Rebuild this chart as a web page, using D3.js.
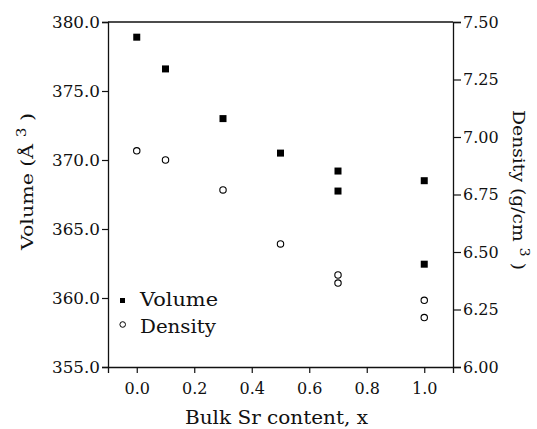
<!DOCTYPE html>
<html>
<head>
<meta charset="utf-8">
<script src="https://cdn.jsdelivr.net/npm/d3@7"></script>
<style>
  html, body { margin: 0; padding: 0; background: #fff; }
  svg { display: block; }
  text { font-family: "DejaVu Serif", serif; fill: #111; }
</style>
</head>
<body>
<svg id="chart" width="537" height="429"></svg>
<script>
// Sr content of each sample (x) with unit-cell volume and density
const xVolume = [0, 0.1, 0.3, 0.5, 0.7, 0.7, 1.0, 1.0];
const volume = [378.9, 376.6, 373.0, 370.5, 369.2, 367.75, 368.5, 362.45];
const xDensity = [0, 0.1, 0.3, 0.5, 0.7, 0.7, 1.0, 1.0];
const density = [6.94, 6.90, 6.77, 6.535, 6.40, 6.365, 6.29, 6.215];

const xTicks = [0, 0.2, 0.4, 0.6, 0.8, 1.0];
const volumeTicks = [355, 360, 365, 370, 375, 380];
const densityTicks = [6.0, 6.25, 6.5, 6.75, 7.0, 7.25, 7.5];
const legendLabels = ["Volume", "Density"];

const svg = d3.select("#chart");
const margin = { left: 108, right: 84, top: 22, bottom: 62 };
const W = 537, H = 429;

const x = d3.scaleLinear().domain([-0.1, 1.1]).range([margin.left, W - margin.right]);
const yV = d3.scaleLinear().domain([355, 380]).range([H - margin.bottom, margin.top]);
const yD = d3.scaleLinear().domain([6.0, 7.5]).range([H - margin.bottom, margin.top]);

const serif = '"DejaVu Serif", serif';

function styleAxis(size) {
  return g => {
    g.attr("font-family", null);
    g.selectAll(".domain").attr("stroke", "#111").attr("stroke-width", 1.3);
    g.selectAll(".tick line").attr("stroke", "#111").attr("stroke-width", 1.2);
    g.selectAll(".tick text").style("font-family", serif)
      .style("font-size", size).attr("fill", "#111");
  };
}

// bottom axis
svg.append("g")
  .attr("transform", `translate(0,${H - margin.bottom})`)
  .call(d3.axisBottom(x).tickValues(xTicks).tickFormat(d3.format(".1f")).tickSizeOuter(0).tickSize(6).tickPadding(10))
  .call(styleAxis("16px"));

// left axis (volume)
svg.append("g")
  .attr("transform", `translate(${margin.left},0)`)
  .call(d3.axisLeft(yV).tickValues(volumeTicks).tickFormat(d3.format(".1f")).tickSizeOuter(0).tickSize(6).tickPadding(2))
  .call(styleAxis("16.8px"));

// right axis (density)
svg.append("g")
  .attr("transform", `translate(${W - margin.right},0)`)
  .call(d3.axisRight(yD).tickValues(densityTicks).tickFormat(d3.format(".2f")).tickSizeOuter(0).tickSize(8).tickPadding(2))
  .call(styleAxis("16px"));

// top frame line
svg.append("line")
  .attr("x1", margin.left).attr("x2", W - margin.right)
  .attr("y1", margin.top).attr("y2", margin.top)
  .attr("stroke", "#111").attr("stroke-width", 1.3);

// volume markers: filled squares
const sq = 7;
svg.append("g").selectAll("rect")
  .data(volume.map((v, i) => [xVolume[i], v]))
  .join("rect")
  .attr("x", d => x(d[0]) - sq / 2)
  .attr("y", d => yV(d[1]) - sq / 2)
  .attr("width", sq).attr("height", sq)
  .attr("fill", "#000");

// density markers: open circles
svg.append("g").selectAll("circle")
  .data(density.map((v, i) => [xDensity[i], v]))
  .join("circle")
  .attr("cx", d => x(d[0]))
  .attr("cy", d => yD(d[1]))
  .attr("r", 3.2)
  .attr("fill", "none").attr("stroke", "#000").attr("stroke-width", 1.1);

// legend
const lg = svg.append("g");
lg.append("rect").attr("x", 120).attr("y", 298).attr("width", 5).attr("height", 5).attr("fill", "#000");
lg.append("circle").attr("cx", 122.7).attr("cy", 324.5).attr("r", 2.8)
  .attr("fill", "none").attr("stroke", "#000").attr("stroke-width", 1);
lg.append("text").attr("x", 140).attr("y", 306).style("font-size", "18px")
  .attr("textLength", 78).attr("lengthAdjust", "spacingAndGlyphs").text(legendLabels[0]);
lg.append("text").attr("x", 140).attr("y", 333).style("font-size", "18px")
  .attr("textLength", 76).attr("lengthAdjust", "spacingAndGlyphs").text(legendLabels[1]);

// x axis title
svg.append("text")
  .attr("x", 276.5).attr("y", 424)
  .attr("text-anchor", "middle")
  .attr("textLength", 183).attr("lengthAdjust", "spacingAndGlyphs")
  .style("font-size", "18px")
  .text("Bulk Sr content, x");

// left axis title
const lt = svg.append("text")
  .attr("transform", `translate(33,181.5) rotate(-90)`)
  .attr("text-anchor", "middle")
  .attr("textLength", 137).attr("lengthAdjust", "spacingAndGlyphs")
  .style("font-size", "17.5px");
lt.append("tspan").text("Volume (Å ");
lt.append("tspan").attr("dy", -7).style("font-size", "13px").text("3");
lt.append("tspan").attr("dy", 7).text(" )");

// right axis title
const rt = svg.append("text")
  .attr("transform", `translate(513,190) rotate(90)`)
  .attr("text-anchor", "middle")
  .attr("textLength", 160).attr("lengthAdjust", "spacingAndGlyphs")
  .style("font-size", "17.5px");
rt.append("tspan").text("Density (g/cm ");
rt.append("tspan").attr("dy", -7).style("font-size", "13px").text("3");
rt.append("tspan").attr("dy", 7).text(" )");
</script>
</body>
</html>
